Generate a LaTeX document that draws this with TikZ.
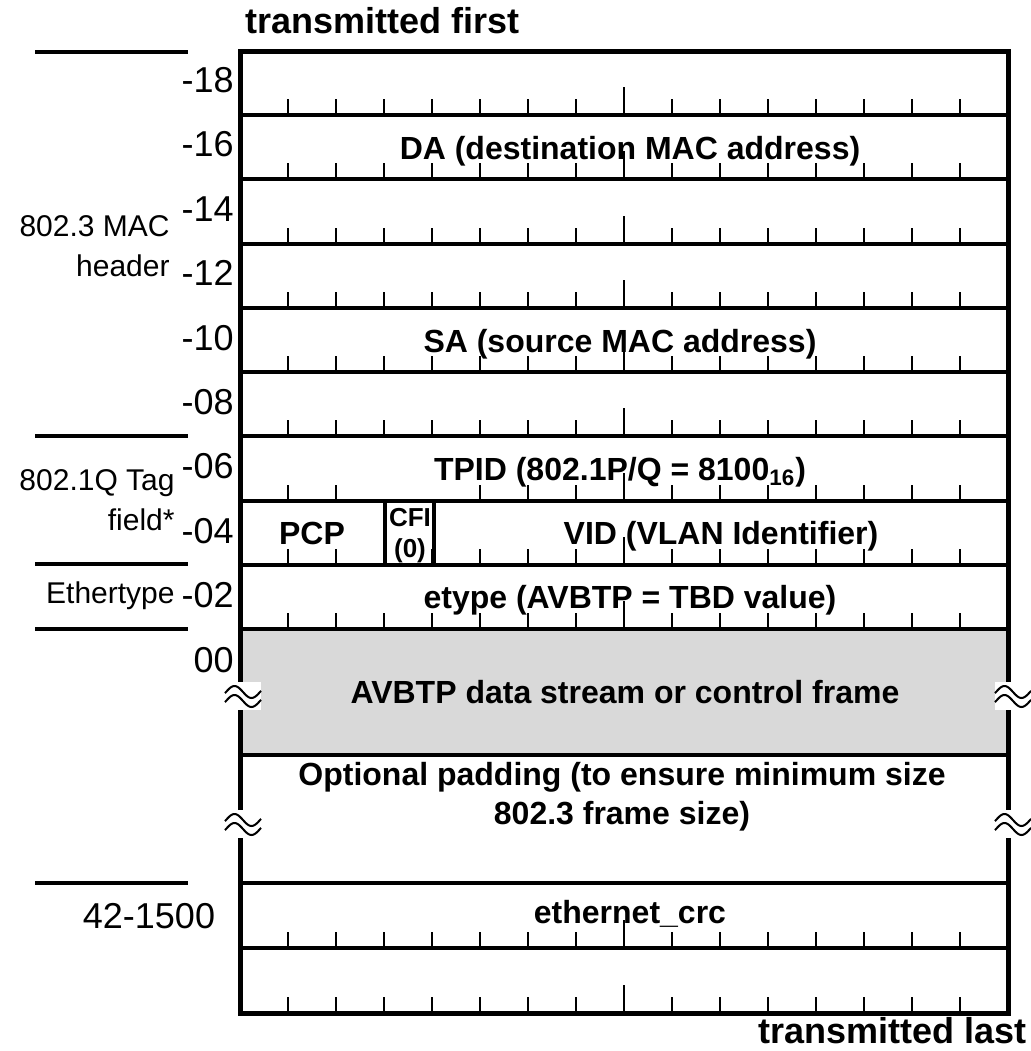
\documentclass[tikz,border=0pt]{standalone}
\usepackage{fontspec}
\setmainfont{Liberation Sans}
\usepackage{xcolor}
\definecolor{grigio}{HTML}{D9D9D9}

% segno di interruzione (due onde su fondo bianco)
\newcommand{\spezzatura}[2]{%
  \fill[white] ({#1-18},{#2-14}) rectangle ({#1+18},{#2+14});
  \draw[line width=1pt] plot[domain=-18:18, samples=40, smooth] ({#1+\x},{#2-4+6*sin(\x*10.59)});
  \draw[line width=1pt] plot[domain=-18:18, samples=40, smooth] ({#1+\x},{#2+5+6*sin(\x*10.59)});
}

\begin{document}
\begin{tikzpicture}[x=0.5pt, y=-0.5pt,
  bordo/.style={line width=2.5pt, line join=miter},
  riga/.style={line width=2pt},
  tacca/.style={line width=1pt},
  guida/.style={line width=1.7pt},
  campo/.style={font=\bfseries\fontsize{16}{19.5}\selectfont, align=center, inner sep=0pt, text depth=0pt},
  offset/.style={font=\fontsize{18}{21}\selectfont, anchor=east, inner sep=0pt, text depth=0pt},
  gruppo/.style={font=\fontsize{15}{20}\selectfont, align=right, anchor=east, inner sep=0pt, text depth=0pt},
  titolo/.style={font=\bfseries\fontsize{18}{21}\selectfont, inner sep=0pt}]
  \useasboundingbox (0,0) rectangle (1031,1051);
  % Titoli
  \node[titolo, anchor=base west] (primo) at (245,33) {transmitted first};
  \node[titolo, anchor=base east] (ultimo) at (1027,1043) {transmitted last};
  % Campo dati
  \fill[grigio] (240,629) rectangle (1008,755);
  % Righe
  \foreach \y in {115,179,244,308,372,436,501,565,629,755,883,948}
    \draw[riga] (240,\y) -- (1008,\y);
  \draw[riga] (385,501) -- (385,565);
  \draw[riga] (434,501) -- (434,565);
  % Tacche
  \foreach \y in {115,179,244,308,372,436,565,629,948,1013} {
    \foreach \k in {1,...,7,9,10,...,15}
      \draw[tacca] (240+48*\k,\y) -- ++(0,-16);
    \draw[tacca] (624,\y) -- ++(0,-28);
  }
  \foreach \k in {1,2,5,6,7,9,10,...,15}
    \draw[tacca] (240+48*\k,501) -- ++(0,-16);
  \draw[tacca] (624,501) -- ++(0,-28);
  % Bordo
  \draw[bordo] (240,51) rectangle (1008,1013);
  % Interruzioni
  \spezzatura{243}{696}
  \spezzatura{1013}{696}
  \spezzatura{243}{824}
  \spezzatura{1013}{824}
  % Offset
  \foreach \t [count=\i from 0] in {-18,-16,-14,-12,-10,-08,-06,-04,-02,00}
    \node[offset] (off\i) at (234,{80+64.4*\i}) {\t};
  \node[offset, anchor=center] (lunghezza) at (149,916) {42-1500};
  % Gruppi
  \draw[guida] (35,52) -- (188,52);
  \draw[guida] (35,436) -- (188,436);
  \draw[guida] (35,564) -- (188,564);
  \draw[guida] (35,629) -- (188,629);
  \draw[guida] (35,883) -- (188,883);
  \node[gruppo] (mac) at (170,246) {802.3 MAC\\header};
  \node[gruppo] (tag) at (175,500) {802.1Q Tag\\field*};
  \node[gruppo] (ethertype) at (175,593) {Ethertype};
  % Campi
  \node[campo] (da) at (630,148) {DA (destination MAC address)};
  \node[campo] (sa) at (620,341) {SA (source MAC address)};
  \node[campo] (tpid) at (620,469) {TPID (802.1P/Q = 8100\textsubscript{16})};
  \node[campo] (pcp) at (312,533) {PCP};
  \node[campo, font=\bfseries\fontsize{13}{15.5}\selectfont] (cfi) at (410,533) {CFI\\(0)};
  \node[campo] (vid) at (721,533) {VID (VLAN Identifier)};
  \node[campo] (etype) at (630,597) {etype (AVBTP = TBD value)};
  \node[campo] (avbtp) at (625,692) {AVBTP data stream or control frame};
  \node[campo] (pad) at (622,793) {Optional padding (to ensure minimum size\\802.3 frame size)};
  \node[campo] (crc) at (630,912) {ethernet\_crc};
\end{tikzpicture}
\end{document}
